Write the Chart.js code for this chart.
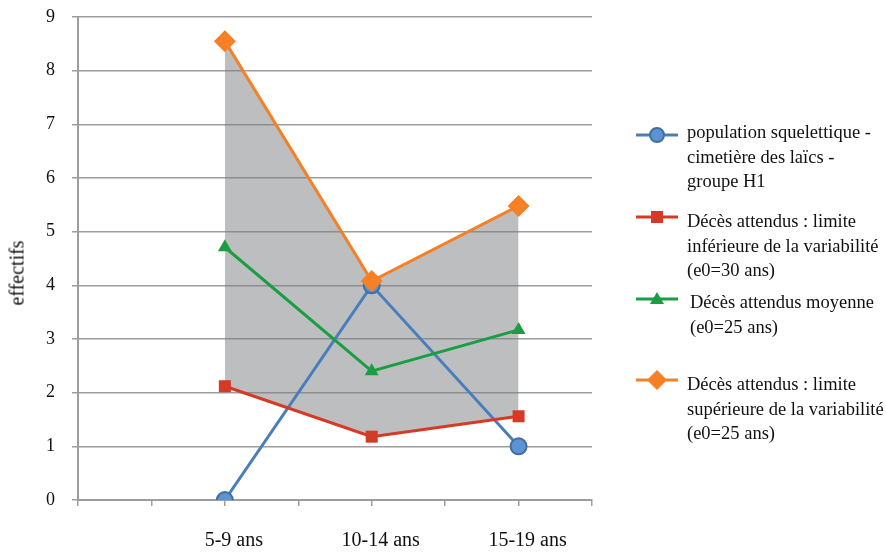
<!DOCTYPE html>
<html>
<head>
<meta charset="utf-8">
<script src="https://cdn.jsdelivr.net/npm/chart.js@4.4.1/dist/chart.umd.min.js"></script>
<style>
  html, body { margin: 0; padding: 0; background: #fff; }
  #wrap { position: relative; width: 886px; height: 553px; }
  #legend { position: absolute; left: 0; top: 0; font-family: "Liberation Serif", "Times New Roman", serif; font-size: 18.5px; color: #111; }
  .item { position: absolute; left: 636px; }
  .item svg { position: absolute; left: 0; }
  .item .txt { position: absolute; left: 51px; line-height: 24.5px; white-space: nowrap; }
  #ytitle { position: absolute; left: 17px; top: 273px; transform: translate(-50%, -50%) rotate(-90deg);
            font-family: "Liberation Serif", "Times New Roman", serif; font-size: 20px; color: #111; white-space: nowrap; }
</style>
</head>
<body>
<div id="wrap">
  <canvas id="lineChart" width="886" height="553"></canvas>
  <div id="ytitle">effectifs</div>
  <div id="legend"></div>
</div>
<script>
const categories = ["5-9 ans", "10-14 ans", "15-19 ans"];
const yTicks = [0, 1, 2, 3, 4, 5, 6, 7, 8, 9];

const populationH1 = [0, 4, 1];
const limiteInf = [2.12, 1.18, 1.56];
const moyenne = [4.71, 2.40, 3.17];
const limiteSup = [8.55, 4.08, 5.48];

const legendLines = [
    ["population squelettique -", "cimetière des laïcs -", "groupe H1"],
    ["Décès attendus : limite", "inférieure de la variabilité", "(e0=30 ans)"],
    ["Décès attendus moyenne", "(e0=25 ans)"],
    ["Décès attendus : limite", "supérieure de la variabilité", "(e0=25 ans)"]
];

const gridColor = "#9c9da1";
const serif = "'Liberation Serif', 'Times New Roman', serif";

function toPoints(values) {
    return values.map(function (v, i) { return { x: i + 1, y: v }; });
}

document.addEventListener("DOMContentLoaded", function () {
    const ctx = document.getElementById("lineChart").getContext("2d");

    new Chart(ctx, {
        type: "line",
        data: {
            datasets: [{
                label: legendLines[0].join(" "),
                data: toPoints(populationH1),
                borderColor: "#4a7ebb",
                borderWidth: 3,
                pointStyle: "circle",
                pointRadius: 8,
                pointBackgroundColor: "#5b93d3",
                pointBorderColor: "#41709f",
                pointBorderWidth: 2,
                fill: false,
                order: 4
            }, {
                label: legendLines[1].join(" "),
                data: toPoints(limiteInf),
                borderColor: "#d63a26",
                borderWidth: 3,
                pointStyle: "rect",
                pointRadius: 8.5,
                pointBackgroundColor: "#d63a26",
                pointBorderColor: "#d63a26",
                pointBorderWidth: 0,
                fill: false,
                order: 3
            }, {
                label: legendLines[2].join(" "),
                data: toPoints(moyenne),
                borderColor: "#1a9e43",
                borderWidth: 3,
                pointStyle: "triangle",
                pointRadius: 8,
                pointBackgroundColor: "#1a9e43",
                pointBorderColor: "#1a9e43",
                pointBorderWidth: 0,
                fill: false,
                order: 2
            }, {
                label: legendLines[3].join(" "),
                data: toPoints(limiteSup),
                borderColor: "#f58025",
                borderWidth: 3,
                pointStyle: "rectRot",
                pointRadius: 11,
                pointBackgroundColor: "#f58025",
                pointBorderColor: "#f58025",
                pointBorderWidth: 0,
                fill: { target: 1 },
                backgroundColor: "rgba(123,125,129,0.5)",
                order: 1
            }]
        },
        options: {
            responsive: false,
            animation: false,
            layout: { padding: { top: 17, right: 294, left: 0, bottom: 0 } },
            plugins: {
                legend: { display: false },
                tooltip: { enabled: false },
                filler: { drawTime: "beforeDatasetsDraw" }
            },
            elements: { line: { tension: 0 } },
            scales: {
                x: {
                    type: "linear",
                    min: 0,
                    max: 3.5,
                    afterFit: function (scale) { scale.height = 53; },
                    border: { color: gridColor, width: 2 },
                    grid: { drawOnChartArea: false, drawTicks: true, tickLength: 6, color: gridColor, lineWidth: 1.5 },
                    ticks: {
                        stepSize: 0.5,
                        autoSkip: false,
                        maxRotation: 0,
                        padding: 23,
                        labelOffset: 9,
                        color: "#111",
                        font: { family: serif, size: 20 },
                        callback: function (v) {
                            return Number.isInteger(v) && v >= 1 && v <= categories.length ? categories[v - 1] : "";
                        }
                    }
                },
                y: {
                    min: yTicks[0],
                    max: yTicks[yTicks.length - 1],
                    afterFit: function (scale) {
                        scale.width = 78;
                        scale.paddingTop = 0;
                        scale.paddingBottom = 0;
                    },
                    afterBuildTicks: function (scale) {
                        scale.ticks = yTicks.map(function (v) { return { value: v }; });
                    },
                    border: { color: gridColor, width: 2 },
                    grid: { color: gridColor, lineWidth: 1.5, drawTicks: true, tickLength: 6 },
                    ticks: {
                        padding: 17,
                        color: "#111",
                        font: { family: serif, size: 18 }
                    }
                }
            }
        }
    });

    // legend built from the same series labels
    const icons = [
        '<circle cx="21" cy="10" r="7" fill="#5b93d3" stroke="#41709f" stroke-width="2"/>',
        '<rect x="15" y="4" width="12" height="12" fill="#d63a26"/>',
        '<polygon points="21,3 28,15 14,15" fill="#1a9e43"/>',
        '<polygon points="21,0 31,10 21,20 11,10" fill="#f58025"/>'
    ];
    const lineColors = ["#4a7ebb", "#d63a26", "#1a9e43", "#f58025"];
    const iconY = [125, 207, 289, 370];
    const textTop = [120, 209, 290, 372];
    const textShift = [0, 0, 3, 0];
    const legend = document.getElementById("legend");
    legendLines.forEach(function (lines, i) {
        const item = document.createElement("div");
        item.className = "item";
        item.style.top = "0px";
        item.innerHTML =
            '<svg width="44" height="20" style="top:' + iconY[i] + 'px" viewBox="0 0 44 20">' +
            '<line x1="0" y1="10" x2="42" y2="10" stroke="' + lineColors[i] + '" stroke-width="3"/>' +
            icons[i] + '</svg>' +
            '<div class="txt" style="top:' + textTop[i] + 'px;left:' + (51 + textShift[i]) + 'px">' +
            lines.join("<br>") + '</div>';
        legend.appendChild(item);
    });
});
</script>
</body>
</html>
